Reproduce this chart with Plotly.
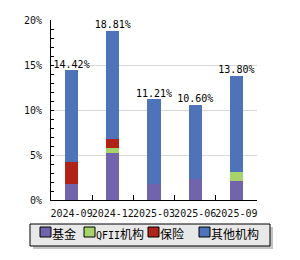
import plotly.graph_objects as go

categories = ["2024-09", "2024-12", "2025-03", "2025-06", "2025-09"]
series_names = ["基金", "QFII机构", "保险", "其他机构"]
fund = [1.80, 5.25, 1.80, 2.33, 2.14]
qfii = [0.0, 0.55, 0.0, 0.0, 1.00]
insurance = [2.45, 1.00, 0.0, 0.0, 0.0]
other = [10.17, 12.01, 9.41, 8.27, 10.66]
totals = [14.42, 18.81, 11.21, 10.60, 13.80]
total_labels = ["14.42%", "18.81%", "11.21%", "10.60%", "13.80%"]
y_ticks = [0, 5, 10, 15, 20]

colors = ["#7164ad", "#a6d36a", "#b02318", "#4f73b9"]
mono = "DejaVu Sans Mono"
cjk = "Noto Sans CJK SC"

W, H = 300, 260
L, R, T, B = 51, 43, 20, 60
PW, PH = W - L - R, H - T - B


def px(x):
    return (x - L) / PW


def py(y):
    return (H - B - y) / PH


fig = go.Figure()
for name, vals, col in zip(series_names, [fund, qfii, insurance, other], colors):
    fig.add_trace(go.Bar(x=categories, y=vals, name=name, marker=dict(color=col, line=dict(width=0)),
                         width=0.32, showlegend=False, hoverinfo="skip"))

fig.add_trace(go.Scatter(x=categories, y=totals, mode="text", text=total_labels,
                         textposition="top center", textfont=dict(family=mono, size=10, color="#000"),
                         showlegend=False, cliponaxis=False, hoverinfo="skip"))

shapes = []
# legend shadow and box
shapes.append(dict(type="rect", xref="paper", yref="paper", x0=px(33), x1=px(273), y0=py(249), y1=py(227),
                   fillcolor="#c4c4c4", line=dict(width=0), layer="above"))
shapes.append(dict(type="rect", xref="paper", yref="paper", x0=px(30), x1=px(270), y0=py(246), y1=py(224),
                   fillcolor="#e8e8e8", line=dict(color="#000", width=1), layer="above"))
swatch_x = [40, 84, 148, 199]
annotations = []
for sx, name, col in zip(swatch_x, series_names, colors):
    shapes.append(dict(type="rect", xref="paper", yref="paper", x0=px(sx), x1=px(sx + 11),
                       y0=py(237), y1=py(227), fillcolor=col, line=dict(color="#000", width=1), layer="above"))
    txt = name
    if name.startswith("QFII"):
        txt = "<span style='font-family:DejaVu Sans Mono;font-size:10px'>QFII</span>" + name[4:]
    annotations.append(dict(xref="paper", yref="paper", x=px(sx + 11), y=py(233), text=txt, showarrow=False,
                            xanchor="left", yanchor="middle", xshift=-1,
                            font=dict(family=cjk, size=12, color="#000")))

fig.update_layout(
    width=W, height=H, margin=dict(l=L, r=R, t=T, b=B),
    paper_bgcolor="white", plot_bgcolor="white",
    barmode="stack",
    shapes=shapes, annotations=annotations,
    xaxis=dict(type="category", showline=True, linecolor="#000", linewidth=1,
               ticks="inside", ticklen=5, tickcolor="#000", tickson="boundaries", tickangle=0,
               ticklabelstandoff=4,
               tickfont=dict(family=mono, size=10, color="#111"), showgrid=False,
               range=[-0.5, 4.5]),
    yaxis=dict(range=[0, 20], tickvals=y_ticks, ticktext=[f"{v}%" for v in y_ticks],
               showline=True, linecolor="#000", linewidth=1, ticks="inside", ticklen=3, tickcolor="#000",
               ticklabelstandoff=6,
               tickfont=dict(family=mono, size=10, color="#111"), showgrid=True, gridcolor="#d9d9d9",
               gridwidth=1, zeroline=False,
               minor=dict(dtick=1, ticks="inside", ticklen=3, tickcolor="#000", showgrid=False)),
)

fig.write_html("out.html")
